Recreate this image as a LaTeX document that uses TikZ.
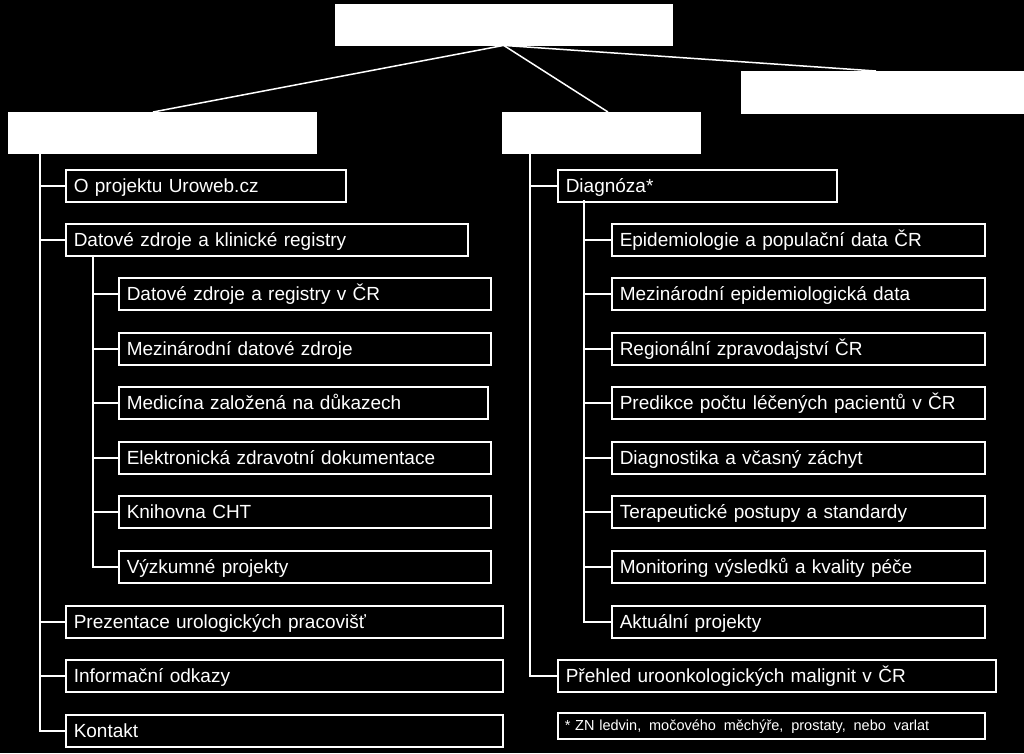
\documentclass[tikz,border=0pt]{standalone}
\usepackage{fontspec}
\setmainfont{Liberation Sans}
\begin{document}
\begin{tikzpicture}[x=1pt,y=-1pt,
  item/.style={draw=white, line width=1.5pt, text=white, anchor=north west,
    minimum height=32pt, inner xsep=8pt, inner ysep=0pt, align=left,
    text height=14.4pt, text depth=0pt,
    font=\fontsize{19}{22}\selectfont},
  note/.style={item, minimum height=26pt, inner xsep=7pt, text height=10pt, text depth=0pt,
    font=\fontsize{14.5}{17}\selectfont},
  head/.style={fill=white, draw=white, anchor=north west, inner sep=0pt},
  link/.style={white, line width=1.5pt}]
\fill[black] (0,0) rectangle (1024,753);
\useasboundingbox (0,0) rectangle (1024,753);

% top level
\node[head, minimum width=337pt, minimum height=41pt] (top) at (335,4) {};
\node[head, minimum width=282pt, minimum height=42pt] (rb) at (741,71) {};
\node[head, minimum width=308pt, minimum height=41pt] (lb) at (8,112) {};
\node[head, minimum width=198pt, minimum height=41pt] (mb) at (502,112) {};

\coordinate (lend) at (153,112);
\coordinate (mend) at (608,112);
\coordinate (rend) at (876,71);
\draw[link] (top.south) -- (lend);
\draw[link] (top.south) -- (mend);
\draw[link] (top.south) -- (rend);

% left column
\node[item, text width=264pt] (l1) at (65,169) {O projektu Uroweb.cz};
\node[item, text width=386pt] (l2) at (65,223) {Datové zdroje a klinické registry};
\node[item, text width=356pt] (s1) at (118,277) {Datové zdroje a registry v ČR};
\node[item, text width=356pt] (s2) at (118,332) {Mezinárodní datové zdroje};
\node[item, text width=353pt] (s3) at (118,386) {Medicína založená na důkazech};
\node[item, text width=356pt] (s4) at (118,441) {Elektronická zdravotní dokumentace};
\node[item, text width=356pt] (s5) at (118,495) {Knihovna CHT};
\node[item, text width=356pt] (s6) at (118,550) {Výzkumné projekty};
\node[item, text width=421pt] (l3) at (65,605) {Prezentace urologických pracovišť};
\node[item, text width=421pt] (l4) at (65,659) {Informační odkazy};
\node[item, text width=421pt] (l5) at (65,714) {Kontakt};

\coordinate (lt) at (40,153);
\foreach \n in {l1,l2,l3,l4,l5} \draw[link] (lt) |- (\n.west);
\coordinate (lst) at (93,255);
\foreach \n in {s1,s2,s3,s4,s5,s6} \draw[link] (lst) |- (\n.west);

% right column
\node[item, text width=263pt] (d) at (557,169) {Diagnóza*};
\node[item, text width=357pt] (r1) at (611,223) {Epidemiologie a populační data ČR};
\node[item, text width=357pt] (r2) at (611,277) {Mezinárodní epidemiologická data};
\node[item, text width=357pt] (r3) at (611,332) {Regionální zpravodajství ČR};
\node[item, text width=357pt] (r4) at (611,386) {Predikce počtu léčených pacientů v ČR};
\node[item, text width=357pt] (r5) at (611,441) {Diagnostika a včasný záchyt};
\node[item, text width=357pt] (r6) at (611,495) {Terapeutické postupy a standardy};
\node[item, text width=357pt] (r7) at (611,550) {Monitoring výsledků a kvality péče};
\node[item, text width=357pt] (r8) at (611,605) {Aktuální projekty};
\node[item, text width=422pt] (p) at (557,659) {Přehled uroonkologických malignit v ČR};
\node[note, text width=413pt] (fn) at (557,712) {* ZN ledvin,\hspace{3pt} močového\hspace{3pt} měchýře,\hspace{3pt} prostaty,\hspace{3pt} nebo\hspace{3pt} varlat};

\coordinate (rt) at (530,153);
\foreach \n in {d,p} \draw[link] (rt) |- (\n.west);
\coordinate (rst) at (584,200);
\foreach \n in {r1,r2,r3,r4,r5,r6,r7,r8} \draw[link] (rst) |- (\n.west);
\end{tikzpicture}
\end{document}
